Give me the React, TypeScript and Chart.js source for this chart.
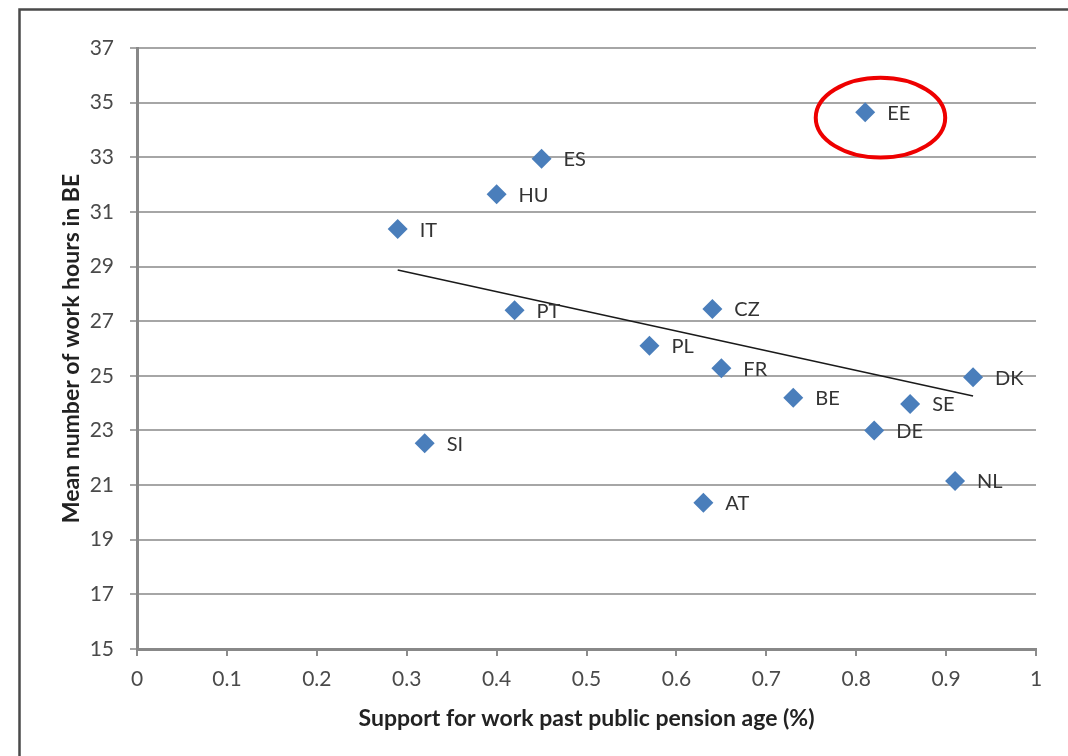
import React, { useEffect, useRef } from "react";
import { Chart, registerables } from "chart.js";

Chart.register(...registerables);

const countries = ["EE", "ES", "HU", "IT", "PT", "CZ", "PL", "FR", "DK", "BE", "SE", "DE", "SI", "NL", "AT"];
const support = [0.81, 0.45, 0.4, 0.29, 0.42, 0.64, 0.57, 0.65, 0.93, 0.73, 0.86, 0.82, 0.32, 0.91, 0.63];
const hours = [34.65, 32.95, 31.65, 30.37, 27.4, 27.45, 26.1, 25.28, 24.95, 24.2, 23.97, 23.0, 22.53, 21.15, 20.35];

const trendX = [0.29, 0.93];
const trendY = [28.87, 24.26];

const xTickLabels = ["0", "0.1", "0.2", "0.3", "0.4", "0.5", "0.6", "0.7", "0.8", "0.9", "1"];
const yTickLabels = ["15", "17", "19", "21", "23", "25", "27", "29", "31", "33", "35", "37"];

const highlightCountry = "EE";
const highlightCenter = [0.827, 34.45];
const highlightRadii = [0.072, 1.46];

const FONT = "Lato, 'Open Sans', sans-serif";

export default function App() {
  const ref = useRef<HTMLCanvasElement | null>(null);

  useEffect(() => {
    if (!ref.current) return;

    const framePlugin = {
      id: "frame",
      beforeDraw(chart: any) {
        const ctx = chart.ctx;
        ctx.save();
        ctx.fillStyle = "#ffffff";
        ctx.fillRect(0, 0, chart.width, chart.height);
        ctx.strokeStyle = "#4a4a4a";
        ctx.lineWidth = 2.5;
        ctx.beginPath();
        ctx.moveTo(chart.width + 5, 9.5);
        ctx.lineTo(19.5, 9.5);
        ctx.lineTo(19.5, chart.height + 5);
        ctx.stroke();
        ctx.restore();
      },
    };

    const labelPlugin = {
      id: "pointLabels",
      afterDatasetsDraw(chart: any) {
        const ctx = chart.ctx;
        const meta = chart.getDatasetMeta(0);
        ctx.save();
        ctx.font = `20px ${FONT}`;
        ctx.fillStyle = "#333333";
        ctx.textBaseline = "middle";
        ctx.textAlign = "left";
        meta.data.forEach((pt: any, i: number) => {
          ctx.fillText(countries[i], pt.x + 22, pt.y + 1);
        });
        const xs = chart.scales.x;
        const ys = chart.scales.y;
        if (countries.includes(highlightCountry)) {
          const cx = xs.getPixelForValue(highlightCenter[0]);
          const cy = ys.getPixelForValue(highlightCenter[1]);
          const rx = Math.abs(xs.getPixelForValue(highlightCenter[0] + highlightRadii[0]) - cx);
          const ry = Math.abs(ys.getPixelForValue(highlightCenter[1] + highlightRadii[1]) - cy);
          ctx.strokeStyle = "#ee0000";
          ctx.lineWidth = 4;
          ctx.beginPath();
          ctx.ellipse(cx, cy, rx, ry, 0, 0, Math.PI * 2);
          ctx.stroke();
        }
        ctx.restore();
      },
    };

    const chart = new Chart(ref.current, {
      type: "scatter",
      data: {
        datasets: [
          {
            label: "Countries",
            data: support.map((x, i) => ({ x, y: hours[i] })),
            pointStyle: "rectRot",
            pointRadius: 10,
            pointHoverRadius: 10,
            backgroundColor: "#4a7ebb",
            borderColor: "#4a7ebb",
            borderWidth: 0,
          },
          {
            type: "line",
            label: "Trend",
            data: trendX.map((x, i) => ({ x, y: trendY[i] })),
            borderColor: "#1a1a1a",
            borderWidth: 1.5,
            pointRadius: 0,
            fill: false,
          } as any,
        ],
      },
      options: {
        animation: false,
        responsive: false,
        events: [],
        layout: { padding: { left: 20, top: 48, right: 32, bottom: 24 } },
        plugins: { legend: { display: false }, tooltip: { enabled: false } },
        scales: {
          x: {
            type: "linear",
            min: 0,
            max: 1,
            afterFit: (s: any) => { s.height = 83; },
            ticks: {
              stepSize: 0.1,
              padding: 11,
              color: "#4a4a4a",
              font: { family: FONT, size: 21 },
              callback: (_v: any, i: number) => xTickLabels[i],
            },
            grid: { drawOnChartArea: false, drawTicks: true, tickLength: 7, color: "#8c8c8c", lineWidth: 2 },
            border: { display: true, color: "#888888", width: 3 },
            title: {
              display: true,
              text: "Support for work past public pension age (%)",
              color: "#222222",
              font: { family: FONT, size: 23, weight: "bold" },
              padding: 0,
            },
          },
          y: {
            type: "linear",
            min: 15,
            max: 37,
            afterFit: (s: any) => { s.width = 117; },
            ticks: {
              stepSize: 2,
              padding: 16,
              color: "#4a4a4a",
              font: { family: FONT, size: 21 },
              callback: (_v: any, i: number) => yTickLabels[i],
            },
            grid: { drawTicks: true, tickLength: 7, color: "#a6a6a6", lineWidth: 2 },
            border: { display: true, color: "#888888", width: 3 },
            title: {
              display: true,
              text: "Mean number of work hours in BE",
              color: "#222222",
              font: { family: FONT, size: 23, weight: "bold" },
              padding: { top: 38, bottom: 0 },
            },
          },
        },
      },
      plugins: [framePlugin, labelPlugin],
    });

    return () => chart.destroy();
  }, []);

  return (
    <div style={{ position: "absolute", left: 0, top: 0, width: 1068, height: 756 }}>
      <canvas ref={ref} width={1068} height={756} style={{ display: "block" }} />
    </div>
  );
}
